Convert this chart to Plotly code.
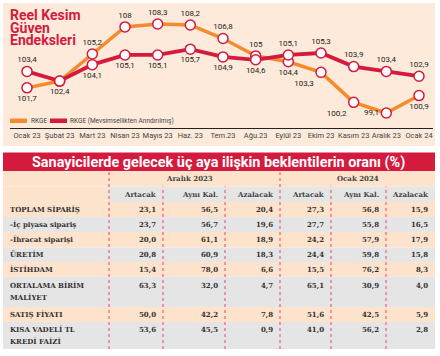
import plotly.graph_objects as go

# ---------------- data ----------------
months = ["Ocak 23", "Şubat 23", "Mart 23", "Nisan 23", "Mayıs 23", "Haz. 23", "Tem.23",
          "Ağu.23", "Eylül 23", "Ekim 23", "Kasım 23", "Aralık 23", "Ocak 24"]
rkge = [101.7, 102.4, 105.2, 108.0, 108.3, 108.2, 106.8, 105.0, 104.4, 103.3, 100.2, 99.1, 100.9]
rkge_sa = [103.4, 102.4, 104.1, 105.1, 105.1, 105.7, 104.9, 104.6, 105.1, 105.3, 103.9, 103.4, 102.9]

row_labels = ["TOPLAM SİPARİŞ", "-İç piyasa sipariş", "-İhracat siparişi", "ÜRETİM", "İSTİHDAM",
              "ORTALAMA BİRİM\nMALİYET", "SATIŞ FİYATI", "KISA VADELİ TL\nKREDİ FAİZİ"]
dec_artacak = [23.1, 23.7, 20.0, 20.8, 15.4, 63.3, 50.0, 53.6]
dec_ayni = [56.5, 56.7, 61.1, 60.9, 78.0, 32.0, 42.2, 45.5]
dec_azalacak = [20.4, 19.6, 18.9, 18.3, 6.6, 4.7, 7.8, 0.9]
jan_artacak = [27.3, 27.7, 24.2, 24.4, 15.5, 65.1, 51.6, 41.0]
jan_ayni = [56.8, 55.8, 57.9, 59.8, 76.2, 30.9, 42.5, 56.2]
jan_azalacak = [15.9, 16.5, 17.9, 15.8, 8.3, 4.0, 5.9, 2.8]
period_labels = ["Aralık 2023", "Ocak 2024"]
col_labels = ["Artacak", "Aynı Kal.", "Azalacak"]

# ---------------- layout constants (pixels) ----------------
W, H = 440, 356
ORANGE = "#f58b2c"
RED = "#d41a3d"
PEACH_PANEL = "#fdeadb"
PEACH = "#fde2cc"
GRAY = "#e5e5e5"
NARROW = "Liberation Sans Narrow, Roboto, Arial"
SERIF = "DejaVu Serif, Liberation Serif, serif"

TABLE_L, TABLE_R = 3, 435
COL_EDGES = [109, 163, 225, 280, 331, 386, 435]   # right edges of the columns
ROW_TOP = 202
ROW_H = [15, 15, 15.5, 14.5, 14.5, 30.5, 15, 27]


def px(x):
    return x / W


def py(y):
    return 1 - y / H


def lab(v):
    s = f"{v:.1f}".replace(".", ",")
    return s[:-2] if s.endswith(",0") else s


def cell(v):
    return "<b>" + f"{v:.1f}".replace(".", ",") + "</b>"


fig = go.Figure()

# ---------------- line chart ----------------
pos_or = ["bottom center", "bottom center", "top center", "top center", "top center", "top center",
          "top center", "top center", "bottom center", "bottom left", "bottom left", "middle left",
          "bottom center"]
pos_rd = ["top center", "bottom center", "bottom center", "bottom center", "bottom center",
          "bottom center", "bottom center", "bottom center", "top center", "top center", "top center",
          "top center", "top center"]
txt_rd = [lab(v) for v in rkge_sa]
txt_rd[1] = ""

fig.add_trace(go.Scatter(
    x=list(range(len(months))), y=rkge, mode="lines+markers+text",
    line=dict(color=ORANGE, width=3.5),
    marker=dict(size=10, color="white", line=dict(color=RED, width=1.5)),
    text=[lab(v) for v in rkge], textposition=pos_or,
    textfont=dict(family=NARROW, size=8, color="#222"),
    showlegend=False, cliponaxis=False, hoverinfo="skip"))
fig.add_trace(go.Scatter(
    x=list(range(len(months))), y=rkge_sa, mode="lines+markers+text",
    line=dict(color=RED, width=3.8),
    marker=dict(size=10, color="white", line=dict(color=RED, width=1.5)),
    text=txt_rd, textposition=pos_rd,
    textfont=dict(family=NARROW, size=8, color="#222"),
    showlegend=False, cliponaxis=False, hoverinfo="skip"))

# ---------------- shapes ----------------
shapes = [
    dict(type="rect", xref="paper", yref="paper", x0=px(3), x1=px(435), y0=py(146), y1=py(3),
         fillcolor=PEACH_PANEL, line=dict(width=0), layer="below"),
    dict(type="rect", xref="paper", yref="paper", x0=px(3), x1=px(435), y0=py(171), y1=py(152.5),
         fillcolor=RED, line=dict(width=0)),
    dict(type="rect", xref="paper", yref="paper", x0=px(10), x1=px(27), y0=py(123), y1=py(118.5),
         fillcolor=ORANGE, line=dict(width=0)),
    dict(type="rect", xref="paper", yref="paper", x0=px(50), x1=px(67), y0=py(123), y1=py(118.5),
         fillcolor=RED, line=dict(width=0)),
    # table header backgrounds
    dict(type="rect", xref="paper", yref="paper", x0=px(TABLE_L), x1=px(TABLE_R), y0=py(186.5), y1=py(171),
         fillcolor=PEACH, line=dict(width=0), layer="below"),
    dict(type="rect", xref="paper", yref="paper", x0=px(TABLE_L), x1=px(COL_EDGES[0]), y0=py(ROW_TOP),
         y1=py(186.5), fillcolor=PEACH, line=dict(width=0), layer="below"),
    dict(type="rect", xref="paper", yref="paper", x0=px(COL_EDGES[0]), x1=px(TABLE_R), y0=py(ROW_TOP),
         y1=py(186.5), fillcolor=GRAY, line=dict(width=0), layer="below"),
]

annotations = []

# table body
cols = [dec_artacak, dec_ayni, dec_azalacak, jan_artacak, jan_ayni, jan_azalacak]
y = ROW_TOP
for i, label in enumerate(row_labels):
    h = ROW_H[i]
    shapes.append(dict(type="rect", xref="paper", yref="paper", x0=px(TABLE_L), x1=px(TABLE_R),
                       y0=py(y + h), y1=py(y), fillcolor=PEACH if i % 2 == 0 else GRAY,
                       line=dict(width=0), layer="below"))
    lines = label.split("\n")
    if len(lines) == 1:
        first = y + h / 2
    else:
        first = y + 7.5 + (h - 27) / 2
    for k, ln in enumerate(lines):
        annotations.append(dict(text=f"<b>{ln}</b>", xref="paper", yref="paper", x=px(8),
                                y=py(first + k * 11.5), xanchor="left", yanchor="middle",
                                showarrow=False, font=dict(family=SERIF, size=7, color="#333")))
    for j, c in enumerate(cols):
        annotations.append(dict(text=cell(c[i]), xref="paper", yref="paper", x=px(COL_EDGES[j + 1] - 5.5),
                                y=py(first), xanchor="right", yanchor="middle",
                                showarrow=False, font=dict(family=SERIF, size=7, color="#333")))
    y += h
TABLE_B = y

# header texts
for p in range(2):
    c0, c1 = COL_EDGES[3 * p], COL_EDGES[3 * p + 3]
    annotations.append(dict(text=f"<b>{period_labels[p]}</b>", xref="paper", yref="paper",
                            x=px((c0 + c1) / 2 - (5 if p == 0 else 0)), y=py(178.8),
                            xanchor="center", yanchor="middle", showarrow=False,
                            font=dict(family=SERIF, size=7, color="#444")))
    for j, c in enumerate(col_labels):
        annotations.append(dict(text=f"<b>{c}</b>", xref="paper", yref="paper",
                                x=px(COL_EDGES[3 * p + j + 1] - 5.5), y=py(194.5),
                                xanchor="right", yanchor="middle", showarrow=False,
                                font=dict(family=SERIF, size=7, color="#444")))

# dotted dividers
for k, xd in enumerate(COL_EDGES[:-1]):
    ytop = 171 if k in (0, 3) else 186.5
    shapes.append(dict(type="line", xref="paper", yref="paper", x0=px(xd), x1=px(xd),
                       y0=py(TABLE_B), y1=py(ytop), line=dict(color="#e8476a", width=1, dash="dot")))

# chart title, legend, banner
for i, t in enumerate(["Reel Kesim", "Güven", "Endeksleri"]):
    annotations.append(dict(text=f"<b>{t}</b>", xref="paper", yref="paper", x=px(7.5), y=py(15 + i * 12.5),
                            xanchor="left", yanchor="middle", showarrow=False,
                            font=dict(family=NARROW, size=14, color=RED)))
annotations.append(dict(text="RKGE", xref="paper", yref="paper", x=px(29), y=py(121),
                        xanchor="left", yanchor="middle", showarrow=False,
                        font=dict(family=NARROW, size=6.5, color="#444")))
annotations.append(dict(text="RKGE (Mevsimsellikten Arındırılmış)", xref="paper", yref="paper", x=px(68),
                        y=py(121), xanchor="left", yanchor="middle", showarrow=False,
                        font=dict(family=NARROW, size=6.5, color="#444")))
annotations.append(dict(text="<b>Sanayicilerde gelecek üç aya ilişkin beklentilerin oranı (%)</b>",
                        xref="paper", yref="paper", x=px(218.5), y=py(162), xanchor="center",
                        yanchor="middle", showarrow=False,
                        font=dict(family=NARROW, size=14.4, color="white")))

fig.update_layout(
    width=W, height=H, margin=dict(l=0, r=0, t=0, b=0),
    paper_bgcolor="white", plot_bgcolor="rgba(0,0,0,0)",
    xaxis=dict(domain=[px(10), px(433)], range=[-0.5204, 12.4286], tickmode="array",
               tickvals=list(range(len(months))), ticktext=months, showgrid=False, zeroline=False,
               showline=True, linecolor="#222", linewidth=1.2, ticks="",
               tickfont=dict(family=NARROW, size=7.5, color="#444"), fixedrange=True),
    yaxis=dict(domain=[py(128), py(8)], range=[97.549, 109.954], visible=False, fixedrange=True),
    shapes=shapes, annotations=annotations, showlegend=False,
)

fig.write_html("out.html", config={"displayModeBar": False},
               post_script="document.body.style.margin='0';document.body.style.overflow='hidden';")
